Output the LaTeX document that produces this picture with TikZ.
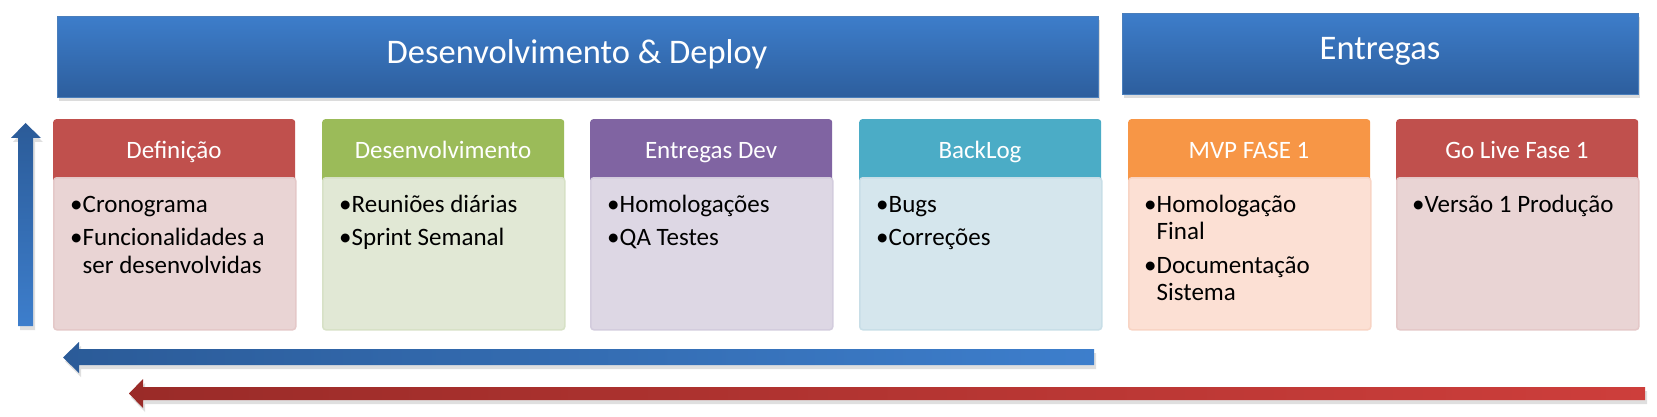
\documentclass[tikz,border=0pt]{standalone}
\usepackage{fontspec}
\setmainfont{Carlito}
\usetikzlibrary{shadows}
\definecolor{banTop}{RGB}{61,125,202}
\definecolor{banBot}{RGB}{45,94,157}
\definecolor{banEdge}{RGB}{74,126,187}
\definecolor{cRed}{RGB}{192,80,77}
\definecolor{bRed}{RGB}{233,212,212}
\definecolor{eRed}{RGB}{228,200,200}
\definecolor{cGreen}{RGB}{155,187,89}
\definecolor{bGreen}{RGB}{225,232,213}
\definecolor{eGreen}{RGB}{215,225,198}
\definecolor{cPurple}{RGB}{128,100,162}
\definecolor{bPurple}{RGB}{221,215,228}
\definecolor{ePurple}{RGB}{211,204,221}
\definecolor{cTeal}{RGB}{75,172,198}
\definecolor{bTeal}{RGB}{213,230,237}
\definecolor{eTeal}{RGB}{200,222,231}
\definecolor{cOrange}{RGB}{247,150,70}
\definecolor{bOrange}{RGB}{252,224,212}
\definecolor{eOrange}{RGB}{248,212,196}
\definecolor{arBlueD}{RGB}{43,91,152}
\definecolor{arBlueL}{RGB}{61,126,204}
\definecolor{arRedD}{RGB}{154,43,40}
\definecolor{arRedL}{RGB}{205,62,59}
\newcommand{\itmA}[1]{\spaceskip=0pt\xspaceskip=0pt\noindent\hangindent=12.5pt\hangafter=1\makebox[12.5pt][l]{\textbullet}#1\par}
\newcommand{\itmB}[1]{\vspace{6pt}\noindent\hangindent=12.5pt\hangafter=1\makebox[12.5pt][l]{\textbullet}#1\par}
\tikzset{
  banner/.style={rectangle, anchor=north west, inner sep=0pt, draw=banEdge, line width=1pt,
    top color=banTop, bottom color=banBot,
    drop shadow={opacity=0.28, shadow xshift=1pt, shadow yshift=-4pt}},
  bantxt/.style={anchor=base, inner sep=0pt, text=white, font=\fontsize{34.5}{40}\selectfont},
  hdrbox/.style={rectangle, rounded corners=3pt, anchor=north west, inner sep=0pt,
    minimum width=242pt, minimum height=66pt, fill=#1},
  bodybox/.style={rectangle, rounded corners=3pt, anchor=north west, inner sep=0pt,
    minimum width=242pt, minimum height=152pt},
  hdrtxt/.style={anchor=base, inner sep=0pt, text=white, font=\fontsize{25}{30}\selectfont},
  bodytxt/.style={anchor=base west, inner sep=0pt, text width=222pt, align=flush left,
    font=\fontsize{25}{27.5}\selectfont},
  arshadow/.style={drop shadow={opacity=0.25, shadow xshift=2pt, shadow yshift=-4pt}},
}
\begin{document}
\begin{tikzpicture}[x=1pt,y=-1pt]
\useasboundingbox (0,0) rectangle (1657,417);

% banners
\node[banner, minimum width=1041pt, minimum height=81pt] (ban1) at (57,16) {};
\node[bantxt] (ban1t) at (577,64) {Desenvolvimento \& Deploy};
\node[banner, minimum width=516pt, minimum height=81pt] (ban2) at (1122,13) {};
\node[bantxt] (ban2t) at (1380,60) {Entregas};

% column 1
\node[hdrbox=cRed] (h1) at (53,119) {};
\node[bodybox, fill=bRed, draw=eRed, line width=1.5pt] (b1) at (53,177) {};
\node[hdrtxt] (l1) at (174,158) {Definição};
\node[bodytxt] (t1) at (70,212) {\itmA{Cronograma}\itmB{Funcionalidades a\newline ser desenvolvidas}};

% column 2
\node[hdrbox=cGreen] (h2) at (322,119) {};
\node[bodybox, fill=bGreen, draw=eGreen, line width=1.5pt] (b2) at (322,177) {};
\node[hdrtxt] (l2) at (443,158) {Desenvolvimento};
\node[bodytxt] (t2) at (339,212) {\itmA{Reuniões diárias}\itmB{Sprint Semanal}};

% column 3
\node[hdrbox=cPurple] (h3) at (590,119) {};
\node[bodybox, fill=bPurple, draw=ePurple, line width=1.5pt] (b3) at (590,177) {};
\node[hdrtxt] (l3) at (711,158) {Entregas Dev};
\node[bodytxt] (t3) at (607,212) {\itmA{Homologações}\itmB{QA Testes}};

% column 4
\node[hdrbox=cTeal] (h4) at (859,119) {};
\node[bodybox, fill=bTeal, draw=eTeal, line width=1.5pt] (b4) at (859,177) {};
\node[hdrtxt] (l4) at (980,158) {BackLog};
\node[bodytxt] (t4) at (876,212) {\itmA{Bugs}\itmB{Correções}};

% column 5
\node[hdrbox=cOrange] (h5) at (1128,119) {};
\node[bodybox, fill=bOrange, draw=eOrange, line width=1.5pt] (b5) at (1128,177) {};
\node[hdrtxt] (l5) at (1249,158) {MVP FASE 1};
\node[bodytxt] (t5) at (1144,212) {\itmA{Homologação\newline Final}\itmB{Documentação\newline Sistema}};

% column 6
\node[hdrbox=cRed] (h6) at (1396,119) {};
\node[bodybox, fill=bRed, draw=eRed, line width=1.5pt] (b6) at (1396,177) {};
\node[hdrtxt] (l6) at (1517,158) {Go Live Fase 1};
\node[bodytxt] (t6) at (1412,212) {\itmA{Versão 1 Produção}};

% vertical arrow
\path[arshadow, top color=arBlueD, bottom color=arBlueL]
  (18,326) -- (18,138) -- (11,138) -- (25.5,123) -- (41,138) -- (33,138) -- (33,326) -- cycle;

% blue horizontal arrow
\path[arshadow, left color=arBlueD, right color=arBlueL]
  (1094,349) -- (79,349) -- (79,342) -- (63,357.5) -- (79,373) -- (79,365) -- (1094,365) -- cycle;

% red horizontal arrow
\path[arshadow, left color=arRedD, right color=arRedL]
  (1645,387) -- (143,387) -- (143,379) -- (129,393.5) -- (143,408) -- (143,400) -- (1645,400) -- cycle;
\end{tikzpicture}
\end{document}
